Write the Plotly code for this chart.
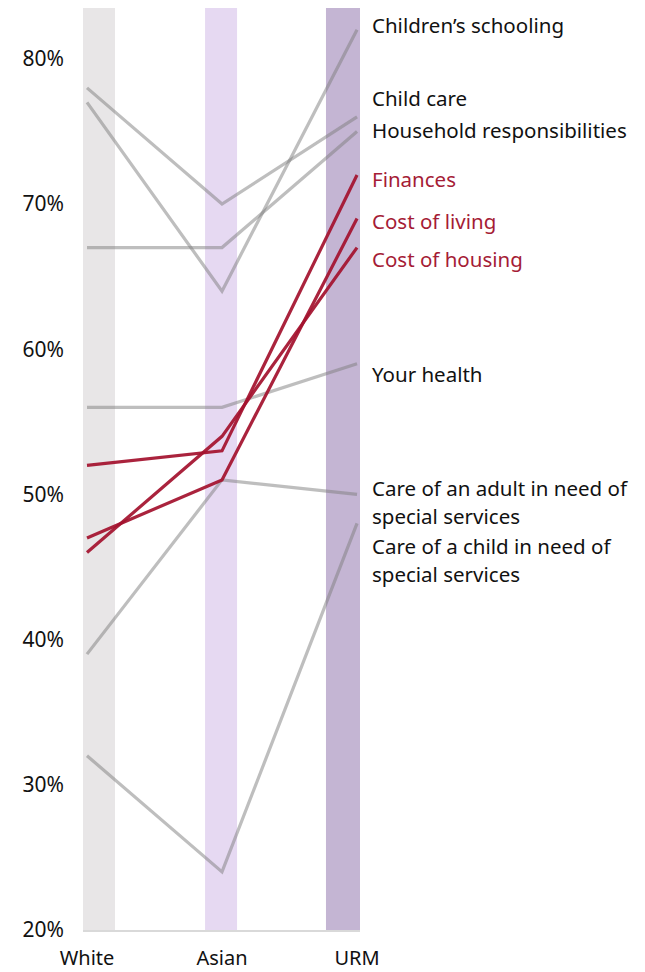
import plotly.graph_objects as go

# ---- data ----
categories = ["White", "Asian", "URM"]

childrens_schooling = [77, 64, 82]
child_care = [78, 70, 76]
household_responsibilities = [67, 67, 75]
your_health = [56, 56, 59]
care_adult_special = [39, 51, 50]
care_child_special = [32, 24, 48]

finances = [52, 53, 72]
cost_of_living = [47, 51, 69]
cost_of_housing = [46, 54, 67]

gray_series = [
    ("Children’s schooling", childrens_schooling),
    ("Child care", child_care),
    ("Household responsibilities", household_responsibilities),
    ("Your health", your_health),
    ("Care of an adult in need of<br>special services", care_adult_special),
    ("Care of a child in need of<br>special services", care_child_special),
]
red_series = [
    ("Finances", finances),
    ("Cost of living", cost_of_living),
    ("Cost of housing", cost_of_housing),
]

y_ticks = [20, 30, 40, 50, 60, 70, 80]

# ---- style / layout helpers ----
GRAY = "rgba(125,125,125,0.5)"
RED = "rgba(164,18,46,0.93)"
RED_TEXT = "#A51C36"
band_colors = ["#E8E6E7", "#E6D9F2", "#C4B5D3"]
band_shift = [0.089, -0.007, -0.104]
band_width = [0.237, 0.237, 0.252]
y_min, y_max = 20, 83.5

# label vertical positions (value units) to avoid overlaps
label_pos = {
    "Children’s schooling": 82.3,
    "Child care": 77.3,
    "Household responsibilities": 75.1,
    "Finances": 71.75,
    "Cost of living": 68.8,
    "Cost of housing": 66.2,
    "Your health": 58.3,
    "Care of an adult in need of<br>special services": 50.45,
    "Care of a child in need of<br>special services": 46.45,
}
LINE_GAP = 28
FONT = "Noto Sans"

x_idx = list(range(len(categories)))

fig = go.Figure()

# background bands
fig.add_trace(go.Bar(
    x=[i + s for i, s in zip(x_idx, band_shift)],
    y=[y_max - y_min] * len(categories),
    base=y_min,
    width=band_width,
    marker=dict(color=band_colors, line=dict(width=0)),
    hoverinfo="skip",
    showlegend=False,
))

for name, vals in gray_series:
    fig.add_trace(go.Scatter(x=x_idx, y=vals, mode="lines",
                             line=dict(color=GRAY, width=3.2),
                             name=name.replace("<br>", " "),
                             showlegend=False, hoverinfo="skip"))
for name, vals in red_series:
    fig.add_trace(go.Scatter(x=x_idx, y=vals, mode="lines",
                             line=dict(color=RED, width=3.2),
                             name=name, showlegend=False, hoverinfo="skip"))

annotations = []
for group, color in ((gray_series, "#111111"), (red_series, RED_TEXT)):
    for name, vals in group:
        for k, line in enumerate(name.split("<br>")):
            annotations.append(dict(
                x=1, xref="paper", y=label_pos[name], yref="y",
                text=line, showarrow=False, xanchor="left", yanchor="middle",
                xshift=10, yshift=-LINE_GAP * k,
                font=dict(family=FONT, size=20.5, color=color),
            ))

fig.update_layout(
    width=645, height=972,
    margin=dict(l=83, r=285, t=8, b=42),
    paper_bgcolor="white", plot_bgcolor="white",
    showlegend=False,
    annotations=annotations,
    font=dict(family=FONT, size=20, color="#111111"),
    xaxis=dict(
        range=[-0.0296, 2.022],
        tickvals=x_idx, ticktext=categories,
        showgrid=False, zeroline=False,
        showline=True, linecolor="#D9D9D9", linewidth=2,
        ticks="", ticklabelstandoff=9, automargin=False,
        tickfont=dict(family=FONT, size=20, color="#111111"),
        fixedrange=True,
    ),
    yaxis=dict(
        range=[y_min, y_max],
        tickvals=y_ticks, ticktext=[f"{v}%" for v in y_ticks],
        showgrid=False, zeroline=False, showline=False,
        ticks="", ticklabelstandoff=18, automargin=False,
        tickfont=dict(family=FONT, size=21, color="#111111"),
        fixedrange=True,
    ),
)

fig.write_html("out.html")
